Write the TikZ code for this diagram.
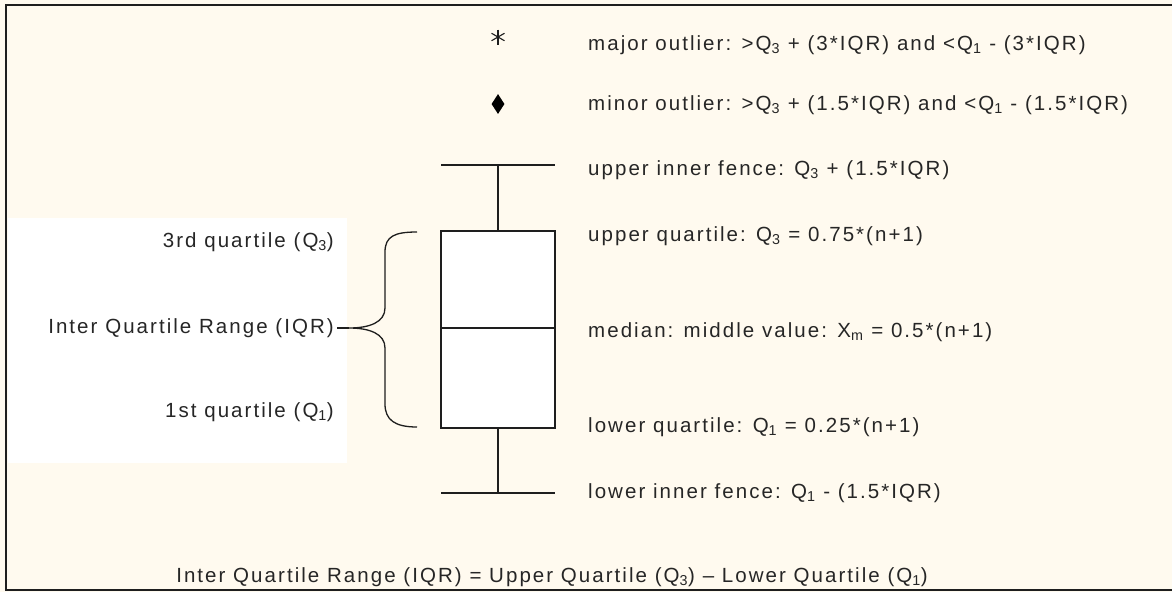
\documentclass[tikz,border=0pt]{standalone}
\usepackage{fontspec}
\setmainfont[LetterSpace=10]{Liberation Sans}
\usetikzlibrary{shapes.geometric}
\newcommand{\WX}{498}
\newcommand{\TX}{588}
\definecolor{bpcream}{RGB}{255,250,239}
\definecolor{bpline}{RGB}{30,30,30}

\begin{document}
\begin{tikzpicture}[
    x=1pt, y=-1pt,
    stroke/.style={draw=bpline, line width=1.6pt},
    frame/.style={draw=bpline, line width=2.2pt},
    tag/.style={font=\fontsize{20.5}{24}\selectfont, inner sep=0pt, text=black!85},
    rtag/.style={tag, anchor=west},
    ltag/.style={tag, anchor=east},
    qbox/.style={draw=bpline, line width=1.6pt, fill=white, minimum width=114pt, minimum height=197pt, inner sep=0pt},
  ]
  \useasboundingbox (0,0) rectangle (1172,592);
  \fill[bpcream] (0,0) rectangle (1172,592);
  \fill[white] (8,218) rectangle (347,463);
  \draw[frame] (1180,5) -- (6,5) -- (6,590) -- (1180,590);

  % the box with its median
  \node[qbox] (box) at (\WX,329.5) {};
  \coordinate (medL) at (441,328);
  \coordinate (medR) at (555,328);
  \draw[stroke] (medL) -- (medR);

  % whiskers
  \coordinate (capU) at (\WX,165);
  \coordinate (capL) at (\WX,493);
  \draw[stroke] (capU) -- (box.north);
  \draw[stroke] (capL) -- (box.south);
  \draw[stroke] ([xshift=-57pt]capU) -- ([xshift=57pt]capU);
  \draw[stroke] ([xshift=-57pt]capL) -- ([xshift=57pt]capL);

  % outlier symbols
  \coordinate (major) at (\WX,37);
  \foreach \a in {90,30,-30} {
    \draw[bpline, line width=1.1pt] ([shift={(\a:7.5pt)}]major) -- ([shift={(\a+180:7.5pt)}]major);
  }
  \node[diamond, fill=black, inner sep=0pt, minimum width=13pt, minimum height=20pt] (minor) at (\WX,104) {};

  % brace
  \coordinate (brTop) at (417,232);
  \coordinate (brBot) at (417,427);
  \coordinate (brTip) at (349,328);
  \draw[stroke, line width=1.3pt]
    (brTop) .. controls (395,232) and (385,236) .. (385,252) -- (385,308)
    .. controls (385,322) and (370,328) .. (brTip)
    .. controls (370,328) and (385,334) .. (385,348) -- (385,404)
    .. controls (385,420) and (395,427) .. (brBot);
  \draw[stroke, line width=1.3pt] (brTip) -- (337,328);

  % left labels
  \node[ltag] (q3l) at (334,242) {3rd quartile (Q\textsubscript{3})};
  \node[ltag] (iqrl) at (334,328) {Inter Quartile Range (IQR)};
  \node[ltag] (q1l) at (334,412) {1st quartile (Q\textsubscript{1})};

  % right labels
  \node[rtag] (t1) at (\TX,45)  {major outlier: >Q\textsubscript{3} + (3*IQR) and <Q\textsubscript{1} - (3*IQR)};
  \node[rtag] (t2) at (\TX,105) {minor outlier: >Q\textsubscript{3} + (1.5*IQR) and <Q\textsubscript{1} - (1.5*IQR)};
  \node[rtag] (t3) at (\TX,170) {upper inner fence: Q\textsubscript{3} + (1.5*IQR)};
  \node[rtag] (t4) at (\TX,236) {upper quartile: Q\textsubscript{3} = 0.75*(n+1)};
  \node[rtag] (t5) at (\TX,332) {median: middle value: X\textsubscript{m} = 0.5*(n+1)};
  \node[rtag] (t6) at (\TX,427) {lower quartile: Q\textsubscript{1} = 0.25*(n+1)};
  \node[rtag] (t7) at (\TX,493) {lower inner fence: Q\textsubscript{1} - (1.5*IQR)};

  \node[tag] (def) at (552,577) {Inter Quartile Range (IQR) = Upper Quartile (Q\textsubscript{3}) – Lower Quartile (Q\textsubscript{1})};
\end{tikzpicture}
\end{document}
